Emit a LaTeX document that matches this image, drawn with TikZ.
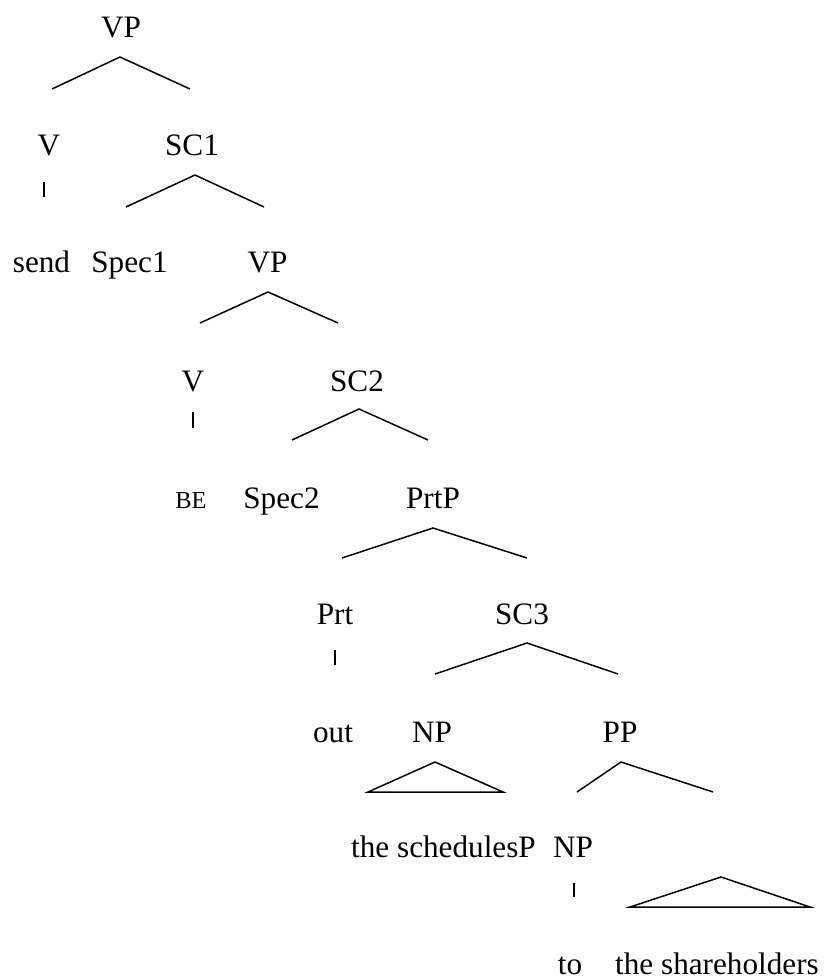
\documentclass[tikz,border=0pt]{standalone}
\usepackage{fontspec}
\setmainfont{Liberation Serif}
\begin{document}
\begin{tikzpicture}[x=0.5pt,y=-0.5pt,
  lbl/.style={inner sep=0pt, anchor=base, font=\fontsize{15.6}{18}\selectfont},
  smalllbl/.style={inner sep=0pt, anchor=base, font=\fontsize{12.2}{14}\selectfont},
  br/.style={line width=0.75pt, line join=miter, line cap=butt},
  bar/.style={line width=1pt, line cap=butt}]
\useasboundingbox (0,0) rectangle (829,978);
% labels
\node[lbl] (vp1) at (121,38) {VP};
\node[lbl] (v1) at (49,156) {V};
\node[lbl] (sc1) at (192,156) {SC1};
\node[lbl] (send) at (41.5,273) {send};
\node[lbl] (spec1) at (129.5,273) {Spec1};
\node[lbl] (vp2) at (267.5,273) {VP};
\node[lbl] (v2) at (193,391) {V};
\node[lbl] (sc2) at (357,391) {SC2};
\node[smalllbl] (be) at (191,508) {BE};
\node[lbl] (spec2) at (281.5,508) {Spec2};
\node[lbl] (prtp) at (433,508) {PrtP};
\node[lbl] (prt) at (335,624) {Prt};
\node[lbl] (sc3) at (522,624) {SC3};
\node[lbl] (out) at (333,742) {out};
\node[lbl] (np1) at (432,742) {NP};
\node[lbl] (pp) at (620,742) {PP};
\node[lbl] (sched) at (443.5,857) {the schedulesP};
\node[lbl] (np2) at (573,857) {NP};
\node[lbl] (to) at (570,974) {to};
\node[lbl] (sh) at (717,974) {the shareholders};
% branch coordinates
\coordinate (a1) at (120,57);  \coordinate (l1) at (52,89);   \coordinate (r1) at (190,89);
\coordinate (a2) at (195,175); \coordinate (l2) at (126,207); \coordinate (r2) at (264,207);
\coordinate (a3) at (268,292); \coordinate (l3) at (200,323); \coordinate (r3) at (338,323);
\coordinate (a4) at (359,409); \coordinate (l4) at (292,440); \coordinate (r4) at (428,440);
\coordinate (a5) at (433,528); \coordinate (l5) at (342,558); \coordinate (r5) at (527,558);
\coordinate (a6) at (527,643); \coordinate (l6) at (435,674); \coordinate (r6) at (618,674);
\coordinate (a7) at (435,762); \coordinate (l7) at (368,792); \coordinate (r7) at (503,792);
\coordinate (a8) at (621,762); \coordinate (l8) at (577,792); \coordinate (r8) at (713,792);
\coordinate (a9) at (721,877); \coordinate (l9) at (630,907); \coordinate (r9) at (810,907);
\coordinate (t1) at (44,182);  \coordinate (u1) at (44,197);
\coordinate (t2) at (193,412); \coordinate (u2) at (193,428);
\coordinate (t3) at (335,650); \coordinate (u3) at (335,665);
\coordinate (t4) at (574,883); \coordinate (u4) at (574,897);
% branches
\draw[br] (l1) -- (a1) -- (r1);
\draw[br] (l2) -- (a2) -- (r2);
\draw[br] (l3) -- (a3) -- (r3);
\draw[br] (l4) -- (a4) -- (r4);
\draw[br] (l5) -- (a5) -- (r5);
\draw[br] (l6) -- (a6) -- (r6);
\draw[br] (l7) -- (a7) -- (r7) -- cycle;
\draw[br] (l8) -- (a8) -- (r8);
\draw[br] (l9) -- (a9) -- (r9) -- cycle;
\draw[bar] (t1) -- (u1);
\draw[bar] (t2) -- (u2);
\draw[bar] (t3) -- (u3);
\draw[bar] (t4) -- (u4);
\end{tikzpicture}
\end{document}
